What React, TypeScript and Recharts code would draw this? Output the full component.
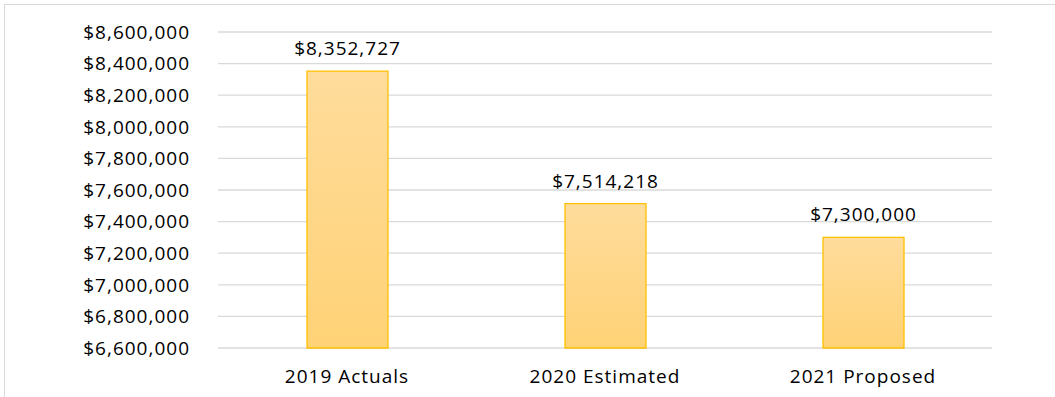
import React from 'react';
import { BarChart, Bar, XAxis, YAxis, CartesianGrid, LabelList } from 'recharts';

const categories = ['2019 Actuals', '2020 Estimated', '2021 Proposed'];
const budgetValues = [8352727, 7514218, 7300000];
const yTicks = [6600000, 6800000, 7000000, 7200000, 7400000, 7600000, 7800000, 8000000, 8200000, 8400000, 8600000];

const data = categories.map((name, i) => ({ name, value: budgetValues[i] }));

const fmt = (v: number) => '$' + Number(v).toLocaleString('en-US');

const FONT = "'Open Sans', sans-serif";
const textStyle = { fontFamily: FONT, fontSize: 19, letterSpacing: 1, fill: '#000' };

export default function App() {
  return (
    <div style={{ position: 'absolute', left: 0, top: 0, width: 1055, height: 397, background: '#fff', overflow: 'hidden' }}>
      <div style={{ position: 'absolute', left: 4, top: 4, width: 1051, height: 1, background: '#d9d9d9' }} />
      <div style={{ position: 'absolute', left: 4, top: 4, width: 1, height: 393, background: '#d9d9d9' }} />
      <div style={{ position: 'absolute', left: 0, top: 0 }}>
        <BarChart width={1055} height={397} data={data} margin={{ top: 32, right: 63, left: 0, bottom: 0 }}>
          <defs>
            <linearGradient id="barFill" x1="0" y1="0" x2="0" y2="1">
              <stop offset="0%" stopColor="#FFDC9C" />
              <stop offset="100%" stopColor="#FFD276" />
            </linearGradient>
          </defs>
          <CartesianGrid vertical={false} stroke="#d9d9d9" strokeWidth={1.3} />
          <XAxis
            dataKey="name"
            axisLine={false}
            tickLine={false}
            tickSize={0}
            tickMargin={22}
            height={49}
            tick={textStyle}
          />
          <YAxis
            type="number"
            domain={[6600000, 8600000]}
            ticks={yTicks}
            interval={0}
            axisLine={false}
            tickLine={false}
            tickSize={0}
            tickMargin={28}
            width={218}
            tick={textStyle}
            tickFormatter={fmt}
          />
          <Bar dataKey="value" barSize={81} fill="url(#barFill)" stroke="#FFC000" strokeWidth={1.3} isAnimationActive={false}>
            <LabelList dataKey="value" position="top" offset={16} formatter={fmt} style={textStyle} />
          </Bar>
        </BarChart>
      </div>
    </div>
  );
}
